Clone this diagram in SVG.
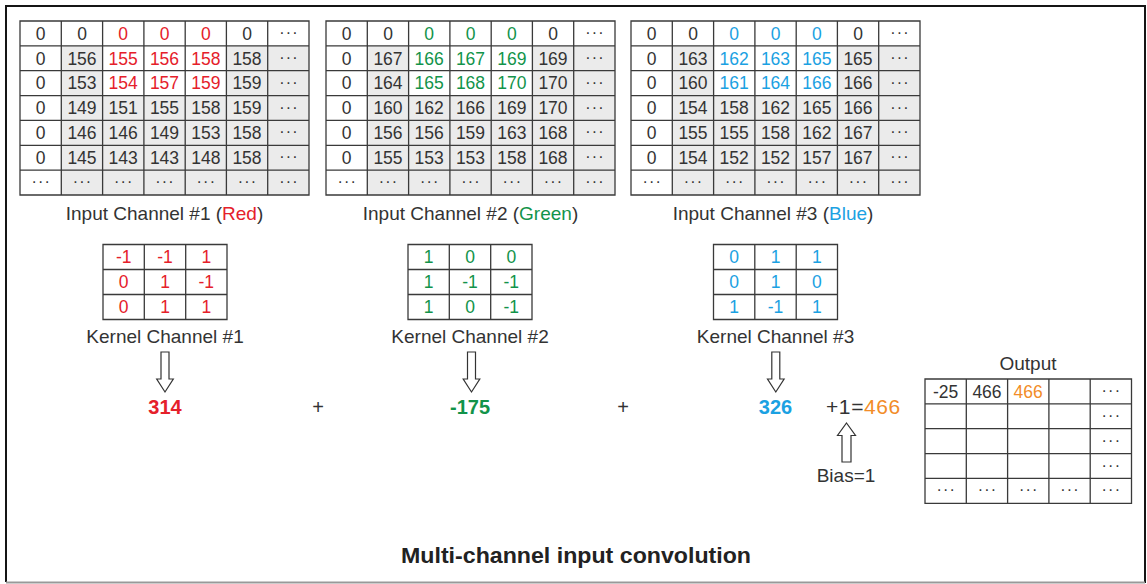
<svg xmlns="http://www.w3.org/2000/svg" xmlns:xlink="http://www.w3.org/1999/xlink" width="1147" height="584" viewBox="0 0 1147 584">
<style>
.ln{fill:none;stroke:#3a3a3a;stroke-width:1.3}
text{font-family:"Liberation Sans",Arial,sans-serif;fill:#333}
.c{font-size:17.5px;text-anchor:middle}
.d{font-size:16px;text-anchor:middle;letter-spacing:1.2px}
.lb{font-size:19px;text-anchor:middle}
.res{font-size:20px;font-weight:bold;text-anchor:middle}
.r{fill:#e5202a}
.gn{fill:#12934a}
.b{fill:#1ba1e2}
.o{fill:#f28c28}
.gray{fill:#ebebeb}
.arr{fill:#fff;stroke:#333;stroke-width:1.2}
</style>
<defs>
<path id="gridLines" class="ln" d="M0,0H289V174H0Z M41.3,0V174 M82.6,0V174 M123.9,0V174 M165.2,0V174 M206.4,0V174 M247.7,0V174 M0,24.9H289 M0,49.7H289 M0,74.6H289 M0,99.4H289 M0,124.3H289 M0,149.1H289"/>
<g id="gridBg">
<rect class="gray" x="41.3" y="24.9" width="247.7" height="149.1"/>
<rect fill="#fff" x="82.6" y="24.9" width="123.8" height="49.7"/>
</g>
<path id="kLines" class="ln" d="M0,0H124V75H0Z M41.3,0V75 M82.7,0V75 M0,25H124 M0,50H124"/>
<path id="down" class="arr" d="M-4,0V27H-8.3L0,40L8.3,27H4V0Z"/>
</defs>

<path d="M6,582V6H1145V583" fill="none" stroke="#151515" stroke-width="2"/>
<line x1="6" y1="582.5" x2="1145" y2="582.5" stroke="#999" stroke-width="2"/>

<g id="input1" transform="translate(20,21)">
<use xlink:href="#gridBg"/>
<use xlink:href="#gridLines"/>
<text class="c" x="20.6" y="18.6">0</text><text class="c" x="62" y="18.6">0</text><text class="c r" x="103.2" y="18.6">0</text><text class="c r" x="144.5" y="18.6">0</text><text class="c r" x="185.8" y="18.6">0</text><text class="c" x="227" y="18.6">0</text><text class="d" x="269" y="17">···</text>
<text class="c" x="20.6" y="43.5">0</text><text class="c" x="62" y="43.5">156</text><text class="c r" x="103.2" y="43.5">155</text><text class="c r" x="144.5" y="43.5">156</text><text class="c r" x="185.8" y="43.5">158</text><text class="c" x="227" y="43.5">158</text><text class="d" x="269" y="41.9">···</text>
<text class="c" x="20.6" y="68.3">0</text><text class="c" x="62" y="68.3">153</text><text class="c r" x="103.2" y="68.3">154</text><text class="c r" x="144.5" y="68.3">157</text><text class="c r" x="185.8" y="68.3">159</text><text class="c" x="227" y="68.3">159</text><text class="d" x="269" y="66.7">···</text>
<text class="c" x="20.6" y="93.2">0</text><text class="c" x="62" y="93.2">149</text><text class="c" x="103.2" y="93.2">151</text><text class="c" x="144.5" y="93.2">155</text><text class="c" x="185.8" y="93.2">158</text><text class="c" x="227" y="93.2">159</text><text class="d" x="269" y="91.6">···</text>
<text class="c" x="20.6" y="118">0</text><text class="c" x="62" y="118">146</text><text class="c" x="103.2" y="118">146</text><text class="c" x="144.5" y="118">149</text><text class="c" x="185.8" y="118">153</text><text class="c" x="227" y="118">158</text><text class="d" x="269" y="116.4">···</text>
<text class="c" x="20.6" y="142.9">0</text><text class="c" x="62" y="142.9">145</text><text class="c" x="103.2" y="142.9">143</text><text class="c" x="144.5" y="142.9">143</text><text class="c" x="185.8" y="142.9">148</text><text class="c" x="227" y="142.9">158</text><text class="d" x="269" y="141.3">···</text>
<text class="d" x="21.2" y="166">···</text><text class="d" x="62.6" y="166">···</text><text class="d" x="103.8" y="166">···</text><text class="d" x="145.1" y="166">···</text><text class="d" x="186.4" y="166">···</text><text class="d" x="227.6" y="166">···</text><text class="d" x="269" y="166">···</text>
<text class="lb" x="144.5" y="199">Input Channel #1 (<tspan class="r">Red</tspan>)</text>
</g>

<g id="input2" transform="translate(326,21)">
<use xlink:href="#gridBg"/>
<use xlink:href="#gridLines"/>
<text class="c" x="20.6" y="18.6">0</text><text class="c" x="62" y="18.6">0</text><text class="c gn" x="103.2" y="18.6">0</text><text class="c gn" x="144.5" y="18.6">0</text><text class="c gn" x="185.8" y="18.6">0</text><text class="c" x="227" y="18.6">0</text><text class="d" x="269" y="17">···</text>
<text class="c" x="20.6" y="43.5">0</text><text class="c" x="62" y="43.5">167</text><text class="c gn" x="103.2" y="43.5">166</text><text class="c gn" x="144.5" y="43.5">167</text><text class="c gn" x="185.8" y="43.5">169</text><text class="c" x="227" y="43.5">169</text><text class="d" x="269" y="41.9">···</text>
<text class="c" x="20.6" y="68.3">0</text><text class="c" x="62" y="68.3">164</text><text class="c gn" x="103.2" y="68.3">165</text><text class="c gn" x="144.5" y="68.3">168</text><text class="c gn" x="185.8" y="68.3">170</text><text class="c" x="227" y="68.3">170</text><text class="d" x="269" y="66.7">···</text>
<text class="c" x="20.6" y="93.2">0</text><text class="c" x="62" y="93.2">160</text><text class="c" x="103.2" y="93.2">162</text><text class="c" x="144.5" y="93.2">166</text><text class="c" x="185.8" y="93.2">169</text><text class="c" x="227" y="93.2">170</text><text class="d" x="269" y="91.6">···</text>
<text class="c" x="20.6" y="118">0</text><text class="c" x="62" y="118">156</text><text class="c" x="103.2" y="118">156</text><text class="c" x="144.5" y="118">159</text><text class="c" x="185.8" y="118">163</text><text class="c" x="227" y="118">168</text><text class="d" x="269" y="116.4">···</text>
<text class="c" x="20.6" y="142.9">0</text><text class="c" x="62" y="142.9">155</text><text class="c" x="103.2" y="142.9">153</text><text class="c" x="144.5" y="142.9">153</text><text class="c" x="185.8" y="142.9">158</text><text class="c" x="227" y="142.9">168</text><text class="d" x="269" y="141.3">···</text>
<text class="d" x="21.2" y="166">···</text><text class="d" x="62.6" y="166">···</text><text class="d" x="103.8" y="166">···</text><text class="d" x="145.1" y="166">···</text><text class="d" x="186.4" y="166">···</text><text class="d" x="227.6" y="166">···</text><text class="d" x="269" y="166">···</text>
<text class="lb" x="144.5" y="199">Input Channel #2 (<tspan class="gn">Green</tspan>)</text>
</g>

<g id="input3" transform="translate(631,21)">
<use xlink:href="#gridBg"/>
<use xlink:href="#gridLines"/>
<text class="c" x="20.6" y="18.6">0</text><text class="c" x="62" y="18.6">0</text><text class="c b" x="103.2" y="18.6">0</text><text class="c b" x="144.5" y="18.6">0</text><text class="c b" x="185.8" y="18.6">0</text><text class="c" x="227" y="18.6">0</text><text class="d" x="269" y="17">···</text>
<text class="c" x="20.6" y="43.5">0</text><text class="c" x="62" y="43.5">163</text><text class="c b" x="103.2" y="43.5">162</text><text class="c b" x="144.5" y="43.5">163</text><text class="c b" x="185.8" y="43.5">165</text><text class="c" x="227" y="43.5">165</text><text class="d" x="269" y="41.9">···</text>
<text class="c" x="20.6" y="68.3">0</text><text class="c" x="62" y="68.3">160</text><text class="c b" x="103.2" y="68.3">161</text><text class="c b" x="144.5" y="68.3">164</text><text class="c b" x="185.8" y="68.3">166</text><text class="c" x="227" y="68.3">166</text><text class="d" x="269" y="66.7">···</text>
<text class="c" x="20.6" y="93.2">0</text><text class="c" x="62" y="93.2">154</text><text class="c" x="103.2" y="93.2">158</text><text class="c" x="144.5" y="93.2">162</text><text class="c" x="185.8" y="93.2">165</text><text class="c" x="227" y="93.2">166</text><text class="d" x="269" y="91.6">···</text>
<text class="c" x="20.6" y="118">0</text><text class="c" x="62" y="118">155</text><text class="c" x="103.2" y="118">155</text><text class="c" x="144.5" y="118">158</text><text class="c" x="185.8" y="118">162</text><text class="c" x="227" y="118">167</text><text class="d" x="269" y="116.4">···</text>
<text class="c" x="20.6" y="142.9">0</text><text class="c" x="62" y="142.9">154</text><text class="c" x="103.2" y="142.9">152</text><text class="c" x="144.5" y="142.9">152</text><text class="c" x="185.8" y="142.9">157</text><text class="c" x="227" y="142.9">167</text><text class="d" x="269" y="141.3">···</text>
<text class="d" x="21.2" y="166">···</text><text class="d" x="62.6" y="166">···</text><text class="d" x="103.8" y="166">···</text><text class="d" x="145.1" y="166">···</text><text class="d" x="186.4" y="166">···</text><text class="d" x="227.6" y="166">···</text><text class="d" x="269" y="166">···</text>
<text class="lb" x="142" y="199">Input Channel #3 (<tspan class="b">Blue</tspan>)</text>
</g>

<g id="kernel1" transform="translate(103,244.5)">
<use xlink:href="#kLines"/>
<text class="c r" x="20.7" y="18.7">-1</text><text class="c r" x="62" y="18.7">-1</text><text class="c r" x="103.3" y="18.7">1</text>
<text class="c r" x="20.7" y="43.7">0</text><text class="c r" x="62" y="43.7">1</text><text class="c r" x="103.3" y="43.7">-1</text>
<text class="c r" x="20.7" y="68.7">0</text><text class="c r" x="62" y="68.7">1</text><text class="c r" x="103.3" y="68.7">1</text>
<text class="lb" x="62" y="98.8">Kernel Channel #1</text>
</g>

<g id="kernel2" transform="translate(408,244.5)">
<use xlink:href="#kLines"/>
<text class="c gn" x="20.7" y="18.7">1</text><text class="c gn" x="62" y="18.7">0</text><text class="c gn" x="103.3" y="18.7">0</text>
<text class="c gn" x="20.7" y="43.7">1</text><text class="c gn" x="62" y="43.7">-1</text><text class="c gn" x="103.3" y="43.7">-1</text>
<text class="c gn" x="20.7" y="68.7">1</text><text class="c gn" x="62" y="68.7">0</text><text class="c gn" x="103.3" y="68.7">-1</text>
<text class="lb" x="62" y="98.8">Kernel Channel #2</text>
</g>

<g id="kernel3" transform="translate(713.5,244.5)">
<use xlink:href="#kLines"/>
<text class="c b" x="20.7" y="18.7">0</text><text class="c b" x="62" y="18.7">1</text><text class="c b" x="103.3" y="18.7">1</text>
<text class="c b" x="20.7" y="43.7">0</text><text class="c b" x="62" y="43.7">1</text><text class="c b" x="103.3" y="43.7">0</text>
<text class="c b" x="20.7" y="68.7">1</text><text class="c b" x="62" y="68.7">-1</text><text class="c b" x="103.3" y="68.7">1</text>
<text class="lb" x="62" y="98.8">Kernel Channel #3</text>
</g>

<g id="connectors">
<use xlink:href="#down" x="165" y="352"/>
<use xlink:href="#down" x="471.5" y="352"/>
<use xlink:href="#down" x="775.8" y="352"/>
<path class="arr" d="M846.5,423L855.5,435.5H851V462H842V435.5H837.5Z"/>
</g>

<g id="result1"><text class="res r" x="165" y="414">314</text></g>
<g id="plus1"><text class="lb" style="font-size:20px" x="318" y="414">+</text></g>
<g id="result2"><text class="res gn" x="470" y="414">-175</text></g>
<g id="plus2"><text class="lb" style="font-size:20px" x="623" y="414">+</text></g>
<g id="result3"><text class="res b" x="775.5" y="414">326</text></g>
<g id="sum"><text x="826" y="414" style="font-size:21px;letter-spacing:0.6px">+1=<tspan class="o">466</tspan></text></g>
<g id="bias"><text class="lb" x="846" y="482">Bias=1</text></g>

<g id="output" transform="translate(925,379)">
<path class="ln" d="M0,0H206.5V124.3H0Z M41.3,0V124.3 M82.6,0V124.3 M123.9,0V124.3 M165.2,0V124.3 M0,24.9H206.5 M0,49.7H206.5 M0,74.6H206.5 M0,99.4H206.5"/>
<text class="lb" x="103" y="-9">Output</text>
<text class="c" x="20.6" y="18.6">-25</text><text class="c" x="62" y="18.6">466</text><text class="c o" x="103.2" y="18.6">466</text><text class="d" x="186.4" y="17">···</text>
<text class="d" x="186.4" y="41.9">···</text>
<text class="d" x="186.4" y="66.7">···</text>
<text class="d" x="186.4" y="91.6">···</text>
<text class="d" x="21.2" y="116.4">···</text><text class="d" x="62.6" y="116.4">···</text><text class="d" x="103.8" y="116.4">···</text><text class="d" x="145.1" y="116.4">···</text><text class="d" x="186.4" y="116.4">···</text>
</g>

<g id="title"><text x="576" y="563" style="font-size:22px;font-weight:bold;text-anchor:middle;fill:#222" textLength="350" lengthAdjust="spacingAndGlyphs">Multi-channel input convolution</text></g>
</svg>
